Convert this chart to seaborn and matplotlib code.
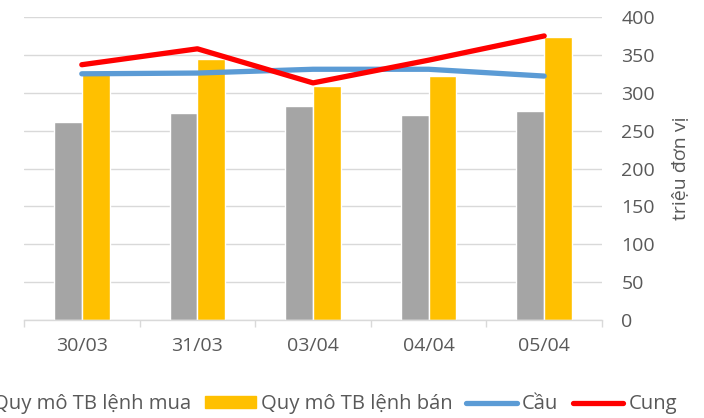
import matplotlib
matplotlib.use("Agg")
import matplotlib.pyplot as plt
import seaborn as sns
import pandas as pd
from matplotlib.patches import Patch
from matplotlib.lines import Line2D
from matplotlib.ticker import FixedLocator

categories = ["30/03", "31/03", "03/04", "04/04", "05/04"]
buy_size = [261, 273, 282, 271, 276]
sell_size = [327, 344, 309, 322, 373]
demand = [325, 326, 331, 331, 322]
supply = [337, 358, 313, 343, 375]
series_names = ["Quy mô TB lệnh mua", "Quy mô TB lệnh bán", "Cầu", "Cung"]
yticks = [0, 50, 100, 150, 200, 250, 300, 350, 400]

sns.set_theme(style="white")
plt.rcParams["font.family"] = ["Open Sans", "DejaVu Sans"]
txt = "#595959"
fs = 14

df = pd.DataFrame({
    "cat": categories * 2,
    "val": buy_size + sell_size,
    "series": [series_names[0]] * 5 + [series_names[1]] * 5,
})

fig = plt.figure(figsize=(7.04, 4.18), dpi=100)
ax = fig.add_axes([24/704, 1-320/418, (602-24)/704, (320-17)/418])

sns.barplot(data=df, x="cat", y="val", hue="series", order=categories,
            hue_order=series_names[:2], palette=["#a5a5a5", "#ffc000"],
            width=0.48, gap=0, saturation=1, ax=ax, legend=False, errorbar=None)
ax.plot(range(5), demand, color="#5b9bd5", lw=3.8, solid_capstyle="round", zorder=5)
ax.plot(range(5), supply, color="#ff0000", lw=3.8, solid_capstyle="round", zorder=6)

ax.set_xlim(-0.5, 4.5)
ax.set_ylim(0, 400)
ax.set_yticks(yticks)
ax.yaxis.tick_right()
ax.yaxis.set_label_position("right")
ax.set_ylabel("triệu đơn vị", color=txt, fontsize=fs, labelpad=12)
ax.tick_params(axis="y", length=0, pad=14, labelsize=fs, labelcolor=txt)
ax.tick_params(axis="x", which="major", length=0, pad=12, labelsize=fs, labelcolor=txt)
ax.xaxis.set_minor_locator(FixedLocator([-0.5, 0.5, 1.5, 2.5, 3.5, 4.5]))
ax.tick_params(axis="x", which="minor", length=5, width=1, color="#d9d9d9", bottom=True)
ax.set_xlabel("")
ax.grid(axis="y", color="#d9d9d9", lw=1)
ax.set_axisbelow(True)
for s in ["top", "left", "right"]:
    ax.spines[s].set_visible(False)
ax.spines["bottom"].set_color("#d9d9d9")
ax.spines["bottom"].set_linewidth(1)

handles = [Patch(color="#a5a5a5"), Patch(color="#ffc000"),
           Line2D([], [], color="#5b9bd5", lw=3.8, solid_capstyle="round"),
           Line2D([], [], color="#ff0000", lw=3.8, solid_capstyle="round")]
fig.legend(handles, series_names, loc="center", bbox_to_anchor=(0.436, 1-404/418),
           ncol=4, frameon=False, fontsize=14.6, labelcolor=txt,
           handlelength=2.5, handleheight=0.5, handletextpad=0.25, columnspacing=0.7)

fig.savefig("out.png", dpi=100)
